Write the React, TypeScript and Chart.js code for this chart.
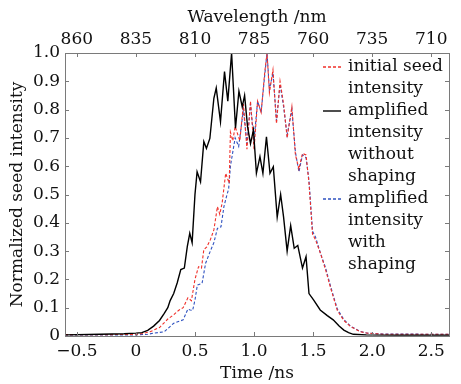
import React, { useEffect, useRef } from "react";
import { Chart, registerables } from "chart.js";

Chart.register(...registerables);

// Time axis (ns) tick positions and labels
const timeTicks = [-0.5, 0, 0.5, 1.0, 1.5, 2.0, 2.5];
const timeTickLabels = ["\u22120.5", "0", "0.5", "1.0", "1.5", "2.0", "2.5"];
const wavelengthTickLabels = ["860", "835", "810", "785", "760", "735", "710"];
const yTicks = [0, 0.1, 0.2, 0.3, 0.4, 0.5, 0.6, 0.7, 0.8, 0.9, 1.0];
const yTickLabels = ["0", "0.1", "0.2", "0.3", "0.4", "0.5", "0.6", "0.7", "0.8", "0.9", "1.0"];

// amplified intensity without shaping (black)
const blackT = [-0.6, -0.3, -0.1, 0.0, 0.05, 0.1, 0.15, 0.2, 0.24, 0.27, 0.29, 0.32, 0.35, 0.38, 0.41, 0.435, 0.456, 0.476, 0.5, 0.518, 0.547, 0.575, 0.597, 0.626, 0.66, 0.68, 0.716, 0.75, 0.778, 0.81, 0.843, 0.872, 0.9, 0.92, 0.945, 0.97, 0.995, 1.02, 1.05, 1.075, 1.105, 1.135, 1.163, 1.196, 1.225, 1.25, 1.28, 1.31, 1.34, 1.37, 1.41, 1.44, 1.465, 1.505, 1.56, 1.62, 1.67, 1.72, 1.76, 1.8, 1.84, 1.95, 2.2, 2.65];
const blackV = [0.004, 0.006, 0.008, 0.01, 0.012, 0.02, 0.035, 0.055, 0.08, 0.1, 0.125, 0.15, 0.188, 0.235, 0.24, 0.316, 0.363, 0.33, 0.5, 0.58, 0.545, 0.687, 0.663, 0.698, 0.84, 0.876, 0.757, 0.934, 0.83, 1.0, 0.734, 0.865, 0.81, 0.85, 0.74, 0.68, 0.728, 0.575, 0.634, 0.575, 0.704, 0.575, 0.598, 0.42, 0.5, 0.42, 0.3, 0.39, 0.31, 0.32, 0.24, 0.28, 0.15, 0.127, 0.092, 0.072, 0.057, 0.035, 0.021, 0.012, 0.006, 0.004, 0.003, 0.003];

// initial seed intensity (red dashed)
const redT = [-0.6, -0.2, 0.0, 0.05, 0.12, 0.2, 0.27, 0.32, 0.36, 0.4, 0.44, 0.47, 0.5, 0.53, 0.555, 0.575, 0.6, 0.63, 0.66, 0.69, 0.71, 0.73, 0.76, 0.79, 0.8, 0.82, 0.84, 0.88, 0.91, 0.94, 0.97, 1.0, 1.03, 1.06, 1.09, 1.11, 1.13, 1.16, 1.19, 1.22, 1.25, 1.28, 1.32, 1.35, 1.38, 1.41, 1.44, 1.465, 1.495, 1.52, 1.564, 1.606, 1.648, 1.705, 1.76, 1.818, 1.9, 1.96, 2.1, 2.65];
const redV = [0.005, 0.005, 0.006, 0.008, 0.015, 0.03, 0.06, 0.075, 0.09, 0.1, 0.135, 0.125, 0.2, 0.245, 0.24, 0.305, 0.315, 0.34, 0.375, 0.457, 0.43, 0.47, 0.575, 0.54, 0.72, 0.69, 0.74, 0.69, 0.82, 0.66, 0.83, 0.66, 0.83, 0.79, 0.93, 1.0, 0.86, 0.94, 0.75, 0.9, 0.82, 0.7, 0.81, 0.64, 0.59, 0.645, 0.64, 0.54, 0.36, 0.34, 0.29, 0.233, 0.17, 0.09, 0.055, 0.033, 0.015, 0.01, 0.006, 0.006];

// amplified intensity with shaping (blue dashed)
const blueT = [-0.6, -0.2, 0.0, 0.1, 0.15, 0.24, 0.32, 0.4, 0.44, 0.46, 0.48, 0.5, 0.52, 0.56, 0.59, 0.63, 0.66, 0.69, 0.72, 0.745, 0.765, 0.785, 0.8, 0.82, 0.84, 0.87, 0.91, 0.94, 0.97, 1.0, 1.03, 1.06, 1.09, 1.11, 1.13, 1.16, 1.19, 1.22, 1.25, 1.28, 1.32, 1.35, 1.38, 1.41, 1.44, 1.465, 1.495, 1.52, 1.564, 1.606, 1.648, 1.705, 1.76, 1.818, 1.9, 1.96, 2.1, 2.65];
const blueV = [0.004, 0.004, 0.004, 0.006, 0.01, 0.015, 0.045, 0.057, 0.095, 0.092, 0.09, 0.127, 0.18, 0.186, 0.257, 0.3, 0.33, 0.38, 0.386, 0.457, 0.49, 0.52, 0.6, 0.65, 0.7, 0.67, 0.8, 0.68, 0.82, 0.69, 0.83, 0.79, 0.92, 1.0, 0.87, 0.93, 0.76, 0.89, 0.81, 0.71, 0.8, 0.65, 0.58, 0.64, 0.63, 0.55, 0.37, 0.35, 0.29, 0.24, 0.175, 0.095, 0.058, 0.034, 0.016, 0.01, 0.007, 0.006];

const RED = "#f0302a";
const BLUE = "#2f52c0";

const legendItems = [
  { lines: ["initial seed", "intensity"], color: RED, dash: [3, 2] },
  { lines: ["amplified", "intensity", "without", "shaping"], color: "#000000", dash: [] as number[] },
  { lines: ["amplified", "intensity", "with", "shaping"], color: BLUE, dash: [3, 2] },
];

const FONT = "'DejaVu Serif', serif";

const toPoints = (t: number[], v: number[]) => t.map((x, i) => ({ x, y: v[i] }));

const framePlugin = {
  id: "frame",
  afterDatasetsDraw(chart: any) {
    const { ctx, chartArea } = chart;
    const { left, right, top, bottom } = chartArea;
    const xs = chart.scales.x;
    const ys = chart.scales.y;
    ctx.save();
    ctx.strokeStyle = "#7a7a7a";
    ctx.lineWidth = 1;
    ctx.beginPath();
    timeTicks.forEach((t) => {
      const px = Math.round(xs.getPixelForValue(t)) + 0.5;
      ctx.moveTo(px, bottom);
      ctx.lineTo(px, bottom - 4);
      ctx.moveTo(px, top);
      ctx.lineTo(px, top + 4);
    });
    yTicks.forEach((v) => {
      const py = Math.round(ys.getPixelForValue(v)) + 0.5;
      ctx.moveTo(left, py);
      ctx.lineTo(left + 4, py);
      ctx.moveTo(right, py);
      ctx.lineTo(right - 4, py);
    });
    ctx.stroke();
    ctx.strokeRect(Math.round(left) + 0.5, Math.round(top) + 0.5, Math.round(right - left), Math.round(bottom - top));
    ctx.restore();

    // legend
    ctx.save();
    ctx.font = `17px ${FONT}`;
    ctx.textBaseline = "middle";
    ctx.textAlign = "left";
    let row = 0;
    const lx0 = right - 126;
    const lx1 = right - 108;
    const tx = right - 101;
    const ty0 = top + 14;
    const rowH = 22;
    legendItems.forEach((item) => {
      const y = Math.round(ty0 + row * rowH);
      ctx.save();
      ctx.strokeStyle = item.color;
      ctx.lineWidth = item.dash.length ? 1.5 : 1.4;
      ctx.setLineDash(item.dash);
      ctx.beginPath();
      ctx.moveTo(lx0, y);
      ctx.lineTo(lx1, y);
      ctx.stroke();
      ctx.restore();
      ctx.fillStyle = "#111";
      item.lines.forEach((ln) => {
        ctx.fillText(ln, tx, ty0 + row * rowH);
        row++;
      });
    });
    ctx.restore();
  },
};

export default function App() {
  const ref = useRef<HTMLCanvasElement>(null);
  useEffect(() => {
    if (!ref.current) return;
    const tickFont = { family: FONT, size: 17 };
    const chart = new Chart(ref.current, {
      type: "line",
      data: {
        datasets: [
          {
            label: "amplified intensity without shaping",
            data: toPoints(blackT, blackV),
            borderColor: "#000000",
            borderWidth: 1.4,
            pointRadius: 0,
            tension: 0,
          },
          {
            label: "initial seed intensity",
            data: toPoints(redT, redV),
            borderColor: RED,
            borderWidth: 1.1,
            borderDash: [3, 2],
            pointRadius: 0,
            tension: 0,
          },
          {
            label: "amplified intensity with shaping",
            data: toPoints(blueT, blueV),
            borderColor: BLUE,
            borderWidth: 1.1,
            borderDash: [3, 2],
            pointRadius: 0,
            tension: 0,
          },
        ],
      },
      options: {
        animation: false,
        responsive: false,
        maintainAspectRatio: false,
        layout: { padding: { left: 0, right: 12, top: 0, bottom: 0 } },
        plugins: { legend: { display: false }, tooltip: { enabled: false } },
        scales: {
          x: {
            type: "linear",
            position: "bottom",
            min: -0.6,
            max: 2.65,
            afterBuildTicks: (s: any) => {
              s.ticks = timeTicks.map((v) => ({ value: v }));
            },
            afterFit: (s: any) => {
              s.height = 48;
            },
            grid: { display: false, drawTicks: false },
            border: { display: false },
            ticks: {
              font: tickFont,
              color: "#111",
              padding: 5,
              maxRotation: 0,
              autoSkip: false,
              callback: (v: any) => {
                const i = timeTicks.findIndex((t) => Math.abs(t - v) < 1e-6);
                return i >= 0 ? timeTickLabels[i] : "";
              },
            },
            title: { display: true, text: "Time /ns", font: tickFont, color: "#111", padding: { top: 2, bottom: 0 } },
          },
          x2: {
            type: "linear",
            position: "top",
            min: -0.6,
            max: 2.65,
            afterBuildTicks: (s: any) => {
              s.ticks = timeTicks.map((v) => ({ value: v }));
            },
            afterFit: (s: any) => {
              s.height = 53;
            },
            grid: { display: false, drawTicks: false },
            border: { display: false },
            ticks: {
              font: tickFont,
              color: "#111",
              padding: 3,
              maxRotation: 0,
              autoSkip: false,
              callback: (v: any) => {
                const i = timeTicks.findIndex((t) => Math.abs(t - v) < 1e-6);
                return i >= 0 ? wavelengthTickLabels[i] : "";
              },
            },
            title: { display: true, text: "Wavelength /nm", font: tickFont, color: "#111", padding: { top: 7, bottom: 0 } },
          },
          y: {
            type: "linear",
            min: 0,
            max: 1,
            afterBuildTicks: (s: any) => {
              s.ticks = yTicks.map((v) => ({ value: v }));
            },
            afterFit: (s: any) => {
              s.width = 65;
            },
            grid: { display: false, drawTicks: false },
            border: { display: false },
            ticks: {
              font: tickFont,
              color: "#111",
              padding: 5,
              autoSkip: false,
              callback: (v: any) => {
                const i = yTicks.findIndex((t) => Math.abs(t - v) < 1e-6);
                return i >= 0 ? yTickLabels[i] : "";
              },
            },
            title: { display: true, text: "Normalized seed intensity", font: tickFont, color: "#111", padding: { top: 7, bottom: 0 } },
          },
        },
      },
      plugins: [framePlugin],
    } as any);
    return () => chart.destroy();
  }, []);
  return (
    <div style={{ position: "fixed", left: 0, top: 0, width: 461, height: 384, background: "#fff" }}>
      <canvas ref={ref} width={461} height={384} style={{ width: 461, height: 384 }} />
    </div>
  );
}
